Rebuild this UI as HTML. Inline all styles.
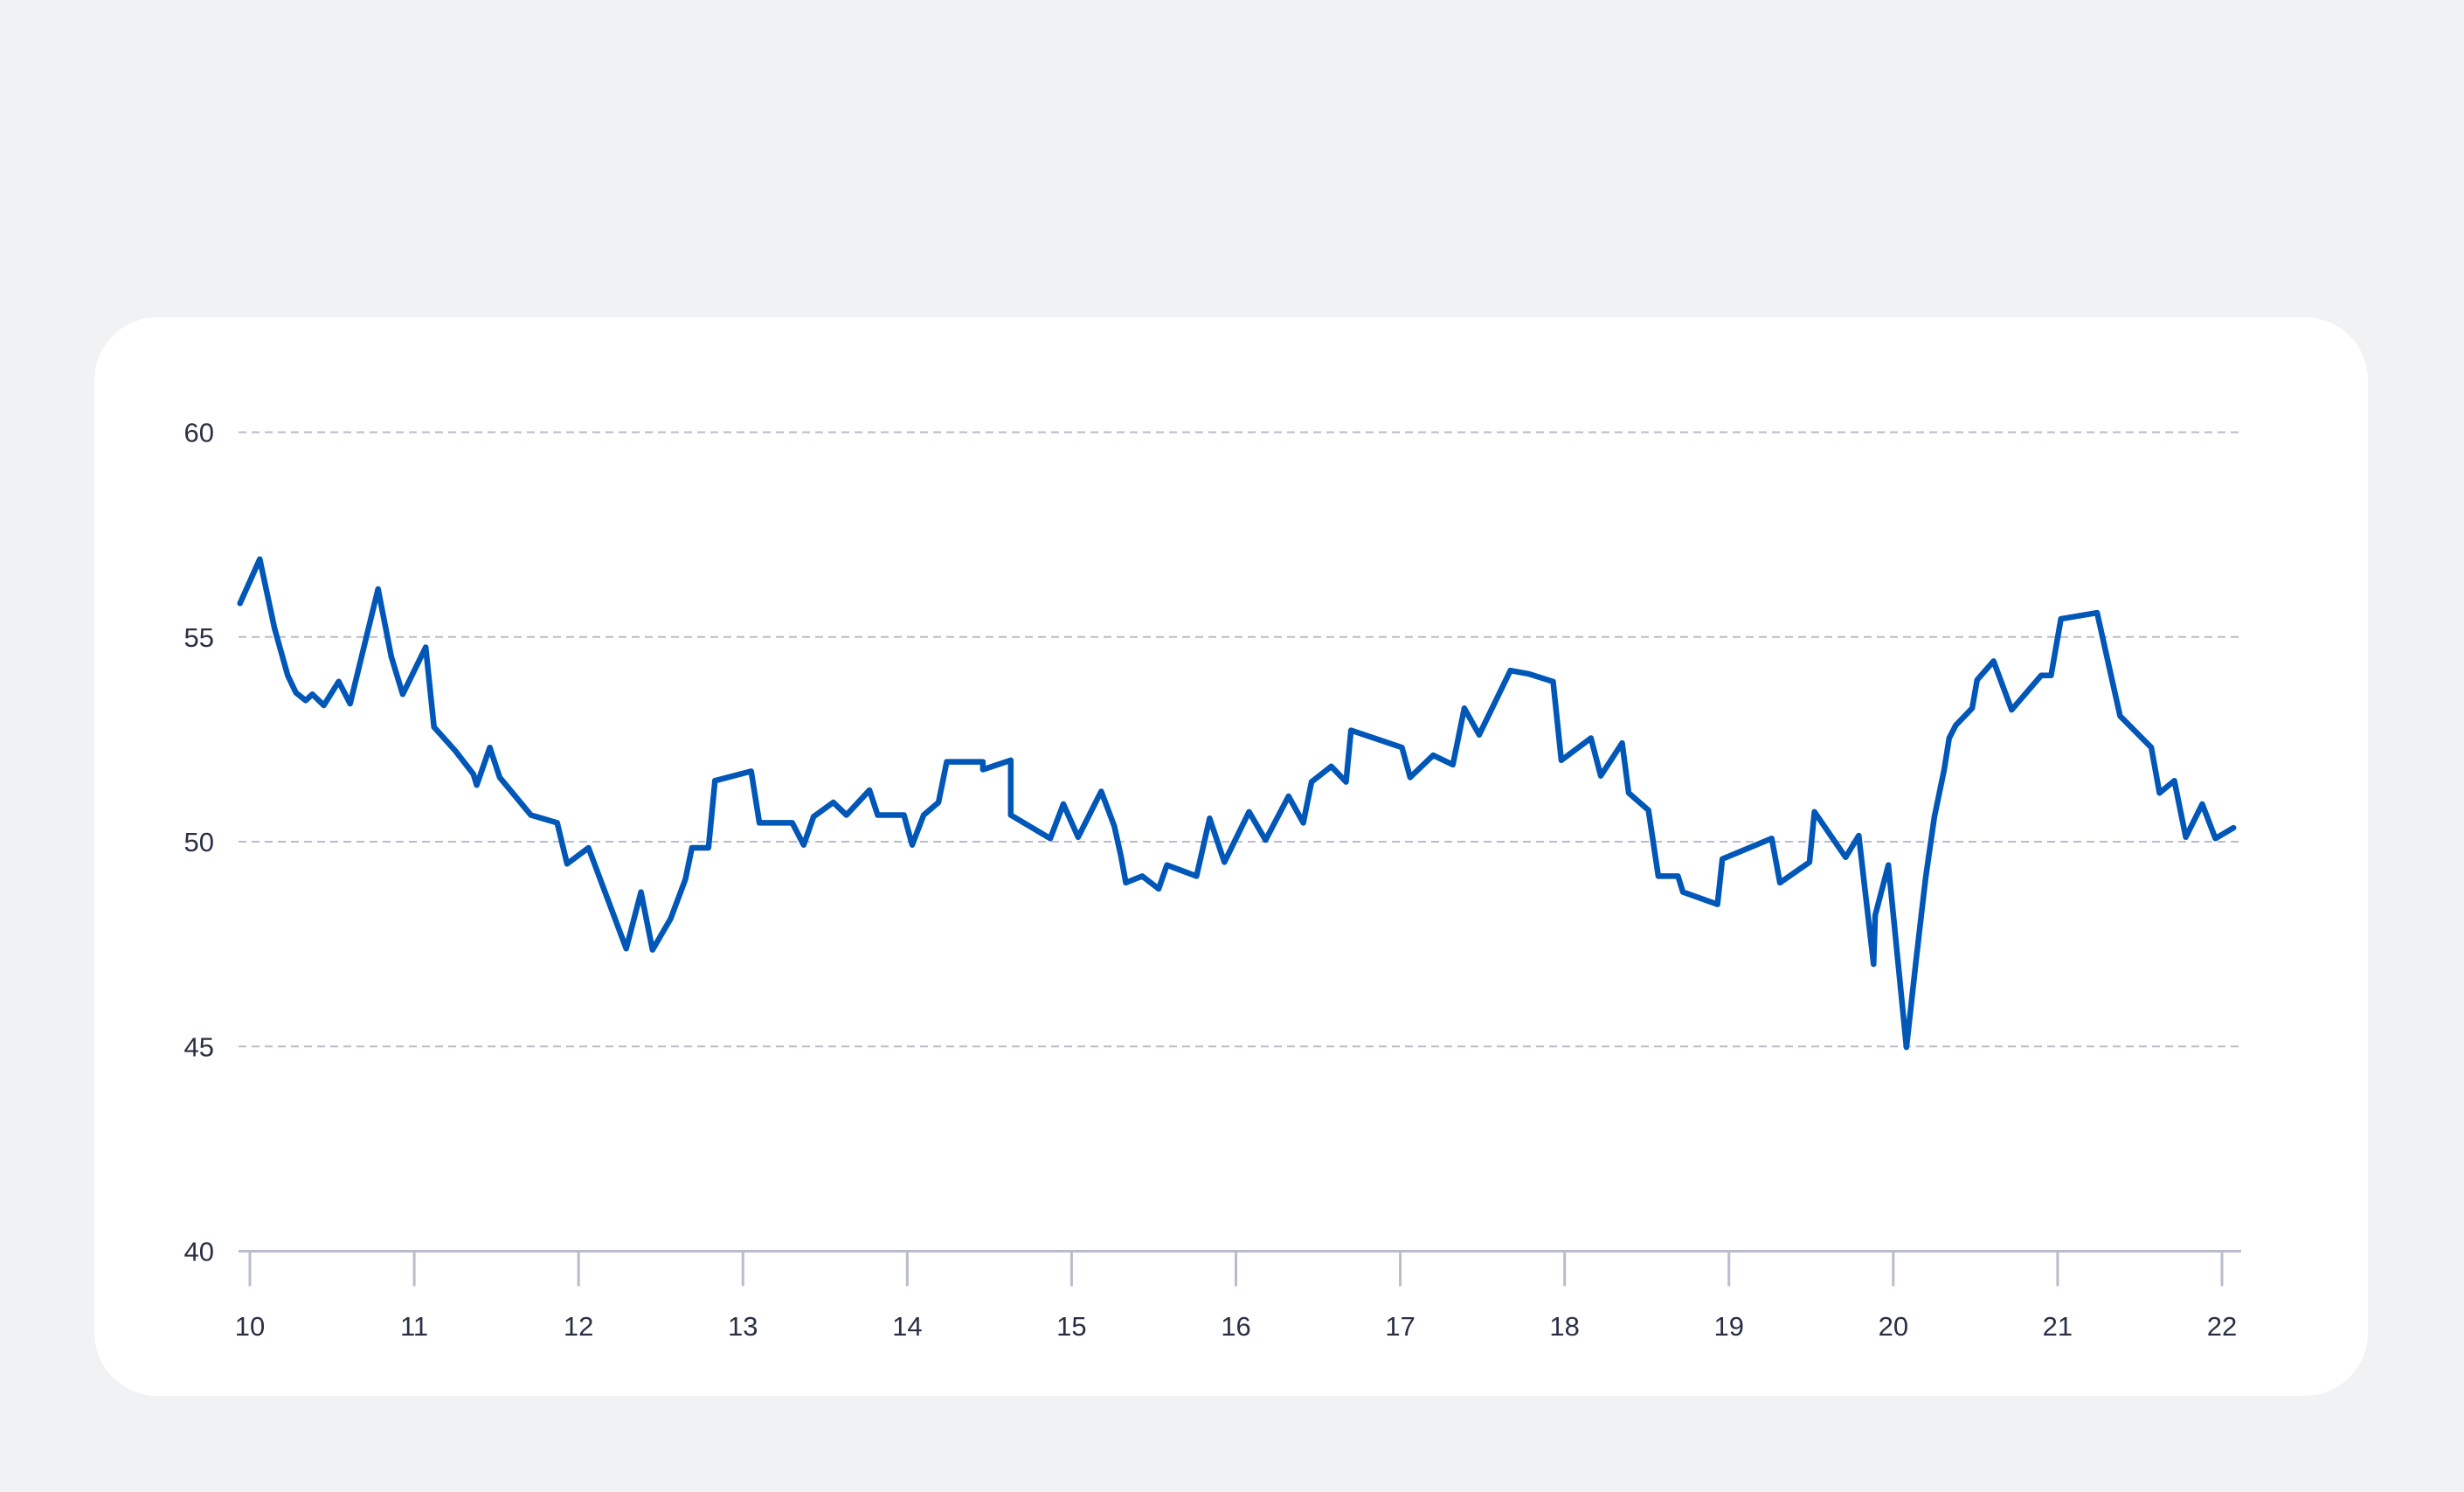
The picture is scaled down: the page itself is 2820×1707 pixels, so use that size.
<!DOCTYPE html>
<html><head><meta charset="utf-8"><style>
html,body{margin:0;padding:0;background:#f1f2f4;}
#card{position:absolute;left:108px;top:363px;width:2602px;height:1234px;background:#fff;border-radius:72px;}
svg{position:absolute;left:0;top:0;}
text{font-family:"Liberation Sans",sans-serif;fill:#2a2f45;font-size:31px;}
</style></head><body>
<div id="card"></div>
<svg id="chart" width="2820" height="1707"></svg>
<script>
const xTicks=[10,11,12,13,14,15,16,17,18,19,20,21,22];
const yTicks=[40,45,50,55,60];
const xVals=[9.94,10.06,10.15,10.23,10.28,10.34,10.38,10.45,10.54,10.61,10.78,10.86,10.93,11.07,11.12,11.25,11.36,11.38,11.46,11.52,11.71,11.87,11.93,12.06,12.29,12.38,12.45,12.56,12.65,12.69,12.79,12.83,13.05,13.10,13.30,13.37,13.43,13.55,13.63,13.77,13.82,13.98,14.03,14.10,14.19,14.24,14.46,14.46,14.63,14.63,14.87,14.95,15.04,15.18,15.26,15.30,15.33,15.43,15.53,15.58,15.76,15.84,15.93,16.08,16.18,16.32,16.41,16.46,16.58,16.67,16.70,17.01,17.06,17.20,17.32,17.39,17.48,17.67,17.78,17.93,17.98,18.16,18.22,18.35,18.39,18.51,18.57,18.69,18.72,18.93,18.96,19.26,19.31,19.49,19.52,19.71,19.79,19.88,19.89,19.97,20.08,20.14,20.19,20.20,20.25,20.31,20.34,20.38,20.48,20.51,20.61,20.72,20.90,20.96,21.02,21.24,21.38,21.57,21.62,21.71,21.78,21.88,21.96,22.07];
const yVals=[55.82,56.90,55.21,54.06,53.64,53.45,53.60,53.33,53.91,53.37,56.17,54.52,53.60,54.75,52.80,52.22,51.65,51.38,52.30,51.57,50.65,50.46,49.46,49.85,47.39,48.77,47.36,48.12,49.08,49.85,49.85,51.49,51.72,50.46,50.46,49.92,50.61,50.96,50.65,51.26,50.65,50.65,49.92,50.65,50.96,51.95,51.95,51.76,51.99,50.65,50.08,50.92,50.11,51.23,50.38,49.66,49.00,49.16,48.85,49.43,49.16,50.57,49.50,50.73,50.04,51.11,50.46,51.46,51.84,51.46,52.72,52.30,51.57,52.11,51.88,53.26,52.61,54.18,54.10,53.91,51.99,52.53,51.61,52.41,51.19,50.77,49.16,49.16,48.77,48.47,49.58,50.08,49.00,49.50,50.73,49.62,50.15,47.01,48.20,49.43,44.98,47.16,48.89,49.20,50.61,51.76,52.53,52.84,53.26,53.95,54.41,53.22,54.06,54.06,55.44,55.59,53.07,52.30,51.19,51.49,50.11,50.92,50.08,50.34];
const NS='http://www.w3.org/2000/svg';
const svg=document.getElementById('chart');
const X=v=>286+(v-10)*(2543-286)/12;
const Y=v=>1431.5-(v-40)*(1431.5-494.5)/20;
function mk(t,a){const e=document.createElementNS(NS,t);for(const k in a)e.setAttribute(k,a[k]);svg.appendChild(e);return e;}
yTicks.forEach(t=>{
  if(t>40){const g=mk('line',{x1:273,x2:2565,y1:Y(t),y2:Y(t),stroke:'#b9bccb','stroke-width':2,'stroke-dasharray':'9 6'});
  
  }
  const l=mk('text',{x:245,y:Y(t)+11,'text-anchor':'end'});l.textContent=t;
  
  
});
const ax=mk('line',{x1:273,x2:2565,y1:Y(40),y2:Y(40),stroke:'#b9bccb','stroke-width':3});


xTicks.forEach(t=>{
  const tk=mk('line',{x1:X(t),x2:X(t),y1:Y(40),y2:Y(40)+40,stroke:'#b9bccb','stroke-width':3});
  
  
  const l=mk('text',{x:X(t),y:1528,'text-anchor':'middle'});l.textContent=t;
  
  
});
const d=xVals.map((v,i)=>(i?'L':'M')+X(v).toFixed(1)+' '+Y(yVals[i]).toFixed(1)).join(' ');
const p=mk('path',{d:d,fill:'none',stroke:'#0057b8','stroke-width':6.5,'stroke-linejoin':'round','stroke-linecap':'round'});


</script>
</body></html>
